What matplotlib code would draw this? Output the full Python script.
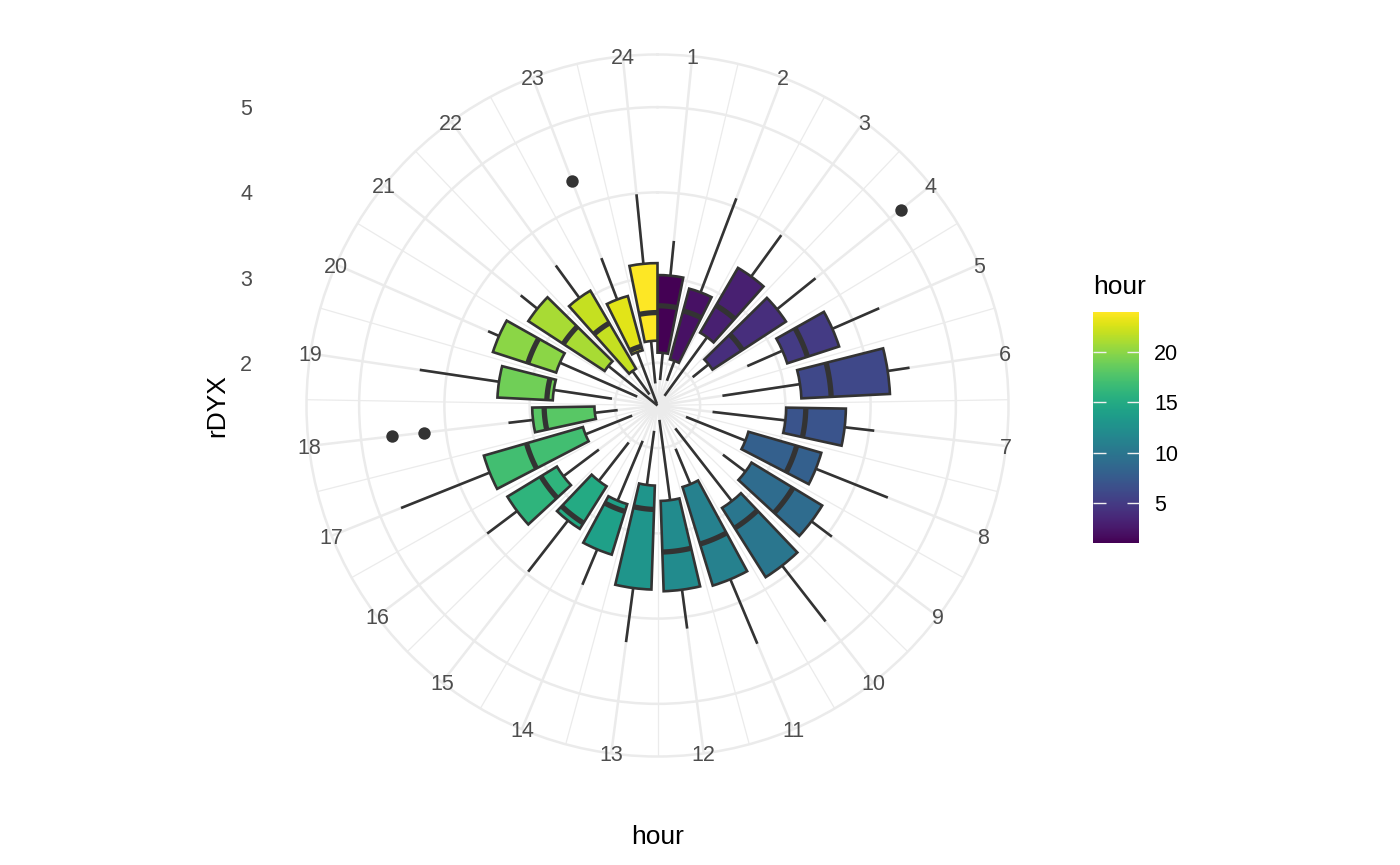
import numpy as np
import matplotlib
matplotlib.use('Agg')
import matplotlib.pyplot as plt
from matplotlib.colors import Normalize

plt.rcParams['font.family'] = ['Liberation Sans', 'DejaVu Sans']

# boxplot stats per hour
hours = np.arange(1, 25)
whisker_lo = [1.80, 1.81, 1.64, 2.03, 2.65, 2.27, 2.15, 1.86, 2.46, 1.84, 2.05, 1.67,
              1.80, 1.95, 2.05, 2.36, 1.82, 1.97, 2.04, 1.76, 1.50, 1.66, 1.52, 1.76]
q1 = [2.12, 2.06, 2.49, 2.27, 3.10, 3.19, 3.01, 2.61, 2.79, 2.92, 2.50, 2.62,
      2.44, 2.71, 2.62, 2.88, 2.41, 2.24, 2.73, 2.75, 2.24, 2.00, 2.17, 2.26]
median = [2.67, 2.65, 2.86, 2.69, 3.35, 3.54, 3.24, 3.20, 3.36, 3.20, 3.20, 3.22,
          2.72, 2.80, 3.13, 3.10, 3.10, 2.83, 2.80, 3.10, 2.82, 2.62, 2.22, 2.59]
q3 = [3.03, 2.92, 3.37, 3.30, 3.74, 4.23, 3.71, 3.50, 3.76, 3.88, 3.71, 3.68,
      3.66, 3.33, 3.21, 3.56, 3.62, 2.97, 3.38, 3.53, 3.31, 3.06, 2.83, 3.17]
whisker_hi = [3.44, 4.10, 3.97, 3.88, 4.34, 4.49, 4.06, 4.41, 4.06, 4.71, 4.53, 4.14,
              4.30, 3.78, 3.97, 4.00, 4.74, 3.26, 4.32, 3.67, 3.56, 3.53, 3.35, 3.99]
outlier_hours = [4, 18, 18, 23]
outlier_vals = [5.16, 4.64, 4.26, 4.32]
r_ticks = [2, 3, 4, 5]
cbar_ticks = [5, 10, 15, 20]

W, H = 1400, 865
fig = plt.figure(figsize=(14, 8.65), dpi=100)

box_w = 0.75
t_lo = hours.min() - box_w / 2
t_hi = hours.max() + box_w / 2


def to_theta(h):
    return (np.asarray(h, dtype=float) - t_lo) / (t_hi - t_lo) * 2 * np.pi


bw = to_theta(box_w + t_lo)  # box width in radians

vals = np.concatenate([whisker_lo, whisker_hi, outlier_vals])
rmin, rmax = vals.min(), vals.max()
span = rmax - rmin
r_outer = rmin + span * 0.45 / 0.4

# panel centre / sizes in pixels
cx, cy = 657.5, 405.5
R = 351
P = R / 0.45 / 2

# overlay axes for radial labels
ax2 = fig.add_axes([(cx - P) / W, 1 - (cy + P) / H, 2 * P / W, 2 * P / H])
ax2.set_ylim(rmin - span * 1.25, rmin + span * 1.25)
ax2.set_yticks(r_ticks)
ax2.set_yticklabels([str(t) for t in r_ticks])
ax2.set_xticks([])
ax2.tick_params(axis='y', length=0, pad=11, labelsize=15.5, labelcolor='#4D4D4D')
for s in ax2.spines.values():
    s.set_visible(False)
ax2.patch.set_alpha(0)
ax2.set_ylabel('rDYX', fontsize=19, labelpad=8)

ax = fig.add_axes([(cx - R) / W, 1 - (cy + R) / H, 2 * R / W, 2 * R / H], projection='polar')
ax.set_theta_zero_location('N')
ax.set_theta_direction(-1)
ax.set_ylim(rmin, r_outer)
ax.patch.set_alpha(0)
ax.set_axisbelow(True)

ax.set_xticks(to_theta(hours))
ax.set_xticks(to_theta(hours[:-1] + 0.5), minor=True)
ax.set_xticklabels([])
ax.set_yticks(r_ticks)
ax.set_yticklabels([])
ax.tick_params(length=0)
ax.tick_params(which='minor', length=0)
ax.xaxis.grid(True, which='major', color='#EBEBEB', lw=1.8)
ax.xaxis.grid(True, which='minor', color='#EBEBEB', lw=0.9)
ax.yaxis.grid(True, which='major', color='#EBEBEB', lw=1.8)
ax.spines['polar'].set_color('#EBEBEB')
ax.spines['polar'].set_linewidth(1.8)

th = to_theta(hours)
norm = Normalize(hours.min(), hours.max())
colors = plt.cm.viridis(norm(hours))
edge = '#333333'

for t, lo, a, b, hi in zip(th, whisker_lo, q1, q3, whisker_hi):
    ax.plot([t, t], [lo, a], color=edge, lw=1.9, solid_capstyle='butt', zorder=2)
    ax.plot([t, t], [b, hi], color=edge, lw=1.9, solid_capstyle='butt', zorder=2)

ax.bar(th, np.array(q3) - np.array(q1), width=bw, bottom=q1, color=colors,
       edgecolor=edge, linewidth=1.9, align='center', zorder=3)

for t, m in zip(th, median):
    arc = np.linspace(t - bw / 2, t + bw / 2, 30)
    ax.plot(arc, np.full(30, m), color=edge, lw=3.8, solid_capstyle='butt', zorder=4)

ax.scatter(to_theta(outlier_hours), outlier_vals, s=80, color=edge, zorder=5, linewidths=0)

for h, t in zip(hours, th):
    ax.text(t, r_outer, str(h), ha='center', va='center_baseline',
            fontsize=15.5, color='#4D4D4D')

fig.text(cx / W, 1 - 844 / H, 'hour', ha='center', va='baseline', fontsize=19)

# colour bar
cax = fig.add_axes([1093 / W, 1 - 543 / H, 46 / W, 231 / H])
sm = plt.cm.ScalarMappable(norm=norm, cmap='viridis')
cb = fig.colorbar(sm, cax=cax, ticks=cbar_ticks)
cb.outline.set_visible(False)
cb.minorticks_off()
cax.tick_params(direction='in', length=9, width=1, color='#F0F0F0', left=True, right=True,
                labelleft=False, labelright=True, labelsize=15.5, pad=11)
fig.text(1093 / W, 1 - 294 / H, 'hour', ha='left', va='baseline', fontsize=19)

fig.savefig('out.png', dpi=100)
